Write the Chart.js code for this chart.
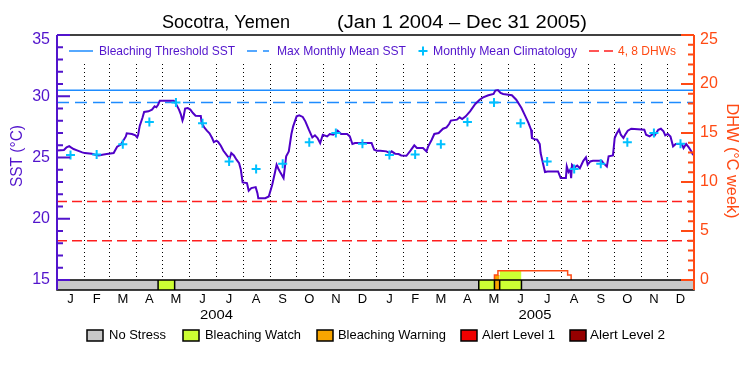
<!DOCTYPE html>
<html>
<head>
<meta charset="utf-8">
<title>Socotra, Yemen</title>
<script src="https://cdn.jsdelivr.net/npm/chart.js@4.4.1/dist/chart.umd.min.js"></script>
<style>
  html, body { margin: 0; padding: 0; background: #fff; }
  #wrap { width: 750px; height: 375px; }
</style>
</head>
<body>
<div id="wrap"><canvas id="chart" width="750" height="375"></canvas></div>
<script>
// axis categories
const monthLetters = ['J', 'F', 'M', 'A', 'M', 'J', 'J', 'A', 'S', 'O', 'N', 'D'];
const years = [2004, 2005];
const sstTicks = [15, 16, 17, 18, 19, 20, 21, 22, 23, 24, 25, 26, 27, 28, 29, 30, 31, 32, 33, 34, 35];
const dhwTicks = [0, 1, 2, 3, 4, 5, 6, 7, 8, 9, 10, 11, 12, 13, 14, 15, 16, 17, 18, 19, 20, 21, 22, 23, 24, 25];

// monthly mean climatology (°C), Jan..Dec
const climatology = [25.2, 25.25, 26.08, 27.9, 29.5, 27.8, 24.67, 24.06, 24.48, 26.25, 27.0, 26.13];
const maxMonthlyMean = 29.5;
const bleachingThreshold = 30.5;
const dhwLevels = [4, 8];

// SST, day 0 = Jan 1 2004
const sstDays = [0, 8, 11, 14, 16, 19, 23, 29, 32, 40, 44, 48, 52, 57, 65, 69, 73, 76, 79, 80,
  86, 90, 92, 93, 95, 98, 100, 105, 109, 112, 114, 116, 118, 134, 136, 140, 142, 144, 145, 147,
  150, 153, 156, 159, 165, 166, 169, 172, 175, 178, 180, 183, 185, 188, 191, 195, 198, 200, 203, 206,
  209, 211, 213, 218, 220, 223, 228, 230, 231, 239, 243, 247, 250, 252, 254, 256, 260, 263, 266, 269,
  271, 275, 278, 282, 285, 289, 293, 296, 299, 302, 305, 310, 313, 317, 322, 326, 333, 336, 339, 342,
  361, 364, 367, 371, 378, 382, 384, 388, 392, 395, 401, 405, 410, 413, 420, 424, 426, 430, 433, 438,
  443, 447, 450, 452, 459, 462, 465, 469, 474, 480, 485, 489, 495, 501, 503, 506, 509, 512, 522, 527,
  533, 537, 541, 544, 545, 548, 551, 554, 555, 557, 560, 563, 575, 578, 584, 585, 587, 589, 590, 591,
  594, 597, 600, 604, 607, 609, 612, 615, 625, 627, 631, 633, 638, 640, 642, 645, 647, 650, 652, 655,
  659, 674, 676, 680, 684, 686, 690, 693, 696, 698, 701, 704, 707, 710, 717, 719, 722, 725, 728, 730];
const sstValues = [25.58, 25.61, 25.83, 25.93, 25.83, 25.69, 25.58, 25.42, 25.36, 25.31, 25.23, 25.17, 25.23, 25.28, 25.36, 25.88, 26.04, 26.37, 26.72, 26.97,
  26.92, 26.81, 26.64, 26.81, 27.6, 28.22, 28.72, 28.77, 28.91, 29.18, 29.1, 29.31, 29.64, 29.64, 29.45, 28.91, 28.55, 28.01, 28.22, 28.99,
  29.04, 28.91, 28.63, 28.41, 28.39, 27.82, 27.46, 27.19, 26.97, 26.59, 26.26, 26.37, 26.26, 25.96, 25.55, 25.17, 24.9, 25.36, 25.17, 24.82,
  24.54, 24.0, 22.96, 22.91, 22.28, 22.5, 22.58, 22.09, 21.68, 21.68, 21.82, 22.77, 23.73, 24.41, 24.08, 23.81, 23.32, 25.09, 25.5, 26.92,
  27.54, 28.36, 28.44, 28.31, 27.95, 27.27, 26.64, 26.81, 26.59, 26.18, 26.86, 26.72, 26.92, 26.86, 27.19, 26.92, 26.92, 26.72, 26.1, 26.18,
  26.18, 25.63, 25.55, 25.55, 25.5, 25.36, 25.5, 25.31, 25.28, 25.17, 25.14, 25.5, 25.99, 25.77, 25.77, 25.5, 25.91, 26.45, 26.92, 27.0,
  27.35, 27.46, 27.73, 28.01, 28.09, 28.28, 28.14, 28.36, 28.77, 29.37, 29.72, 29.91, 30.08, 30.19, 30.46, 30.51, 30.27, 30.19, 30.08, 29.72,
  29.04, 28.44, 27.82, 27.27, 26.59, 26.5, 26.45, 26.1, 25.36, 24.73, 23.81, 23.86, 23.86, 23.32, 23.32, 24.27, 23.81, 24.0, 23.32, 24.41,
  24.19, 24.35, 24.13, 24.73, 25.01, 24.41, 24.68, 24.73, 24.73, 24.54, 24.27, 25.09, 25.17, 26.59, 26.92, 27.27, 26.86, 26.59, 26.86, 27.19,
  27.35, 27.27, 26.86, 26.72, 26.92, 26.81, 27.27, 27.35, 27.13, 26.81, 26.92, 26.72, 25.91, 26.1, 26.1, 25.77, 26.1, 25.83, 25.5, 25.2];

// degree heating weeks (°C week)
const dhwDays = [502, 502, 506, 586, 590];
const dhwValues = [0, 0.5, 0.95, 0.5, 0];
const dhwWarningDays = [502, 508];
const dhwWarningValues = [0.5, 0.5];
const dhwWatchDays = [508, 533];
const dhwWatchValues = [0.95, 0.95];

// stress level bar: first day of each run, level 0 no stress .. 4 alert level 2
const statusStart = [0, 116, 135, 484, 502, 508, 533];
const statusLevel = [0, 1, 0, 1, 2, 1, 0];
const statusNames = ['No Stress', 'Bleaching Watch', 'Bleaching Warning', 'Alert Level 1', 'Alert Level 2'];

const levelColors = ['#c8c8c8', '#ccff33', '#f8a500', '#f00000', '#960000'];
const purple = '#5214cc';
const orange = '#ff4a14';
const FONT = "'Liberation Sans', Arial, sans-serif";

// day offsets of month starts, Jan 1 2004 .. Jan 1 2006
const dayMs = 86400000;
const monthStarts = [];
years.concat([years[1] + 1]).forEach(yr => {
  for (let m = 0; m < 12; m++) {
    monthStarts.push((Date.UTC(yr, m, 1) - Date.UTC(years[0], 0, 1)) / dayMs);
    if (yr > years[1]) break;
  }
});
const totalDays = monthStarts[monthStarts.length - 1];
const midMonths = monthStarts.slice(0, -1).map((d, i) => (d + monthStarts[i + 1]) / 2);

const pts = (xs, ys) => xs.map((d, i) => ({ x: d, y: ys[i] }));

function fitText(ctx, text, x, y, width, font, color, rot) {
  ctx.save();
  ctx.font = font;
  ctx.fillStyle = color;
  ctx.textBaseline = 'middle';
  ctx.textAlign = 'left';
  const w = ctx.measureText(text).width;
  ctx.translate(x, y);
  if (rot) ctx.rotate(rot);
  ctx.scale(width / w, 1);
  ctx.fillText(text, rot ? -w / 2 : 0, 0);
  ctx.restore();
}

function hLine(ctx, x0, x1, y, color, width, dash) {
  ctx.save();
  ctx.strokeStyle = color;
  ctx.lineWidth = width;
  ctx.setLineDash(dash || []);
  ctx.beginPath();
  ctx.moveTo(x0, y);
  ctx.lineTo(x1, y);
  ctx.stroke();
  ctx.restore();
}

const decor = {
  id: 'decor',
  beforeDatasetsDraw(chart) {
    const { ctx, chartArea: a, scales: { x, y } } = chart;
    // dotted month separators
    ctx.save();
    ctx.strokeStyle = '#000';
    ctx.lineWidth = 1;
    ctx.setLineDash([1, 3]);
    monthStarts.slice(1, -1).forEach(d => {
      const px = Math.round(x.getPixelForValue(d)) + 0.5;
      ctx.beginPath();
      ctx.moveTo(px, a.top + 29);
      ctx.lineTo(px, y.getPixelForValue(15));
      ctx.stroke();
    });
    ctx.restore();
  },
  afterDatasetsDraw(chart) {
    const { ctx, chartArea: a, scales: { x, y, y2 } } = chart;
    const top = y.getPixelForValue(15);
    // stress level bar
    ctx.save();
    statusStart.forEach((s, i) => {
      const e = i + 1 < statusStart.length ? statusStart[i + 1] : totalDays;
      const x0 = x.getPixelForValue(s), x1 = x.getPixelForValue(e);
      ctx.fillStyle = levelColors[statusLevel[i]];
      ctx.fillRect(x0, top, x1 - x0, a.bottom - top);
    });
    ctx.strokeStyle = '#000';
    ctx.lineWidth = 1.5;
    statusStart.slice(1).forEach(s => {
      const px = x.getPixelForValue(s);
      ctx.beginPath();
      ctx.moveTo(px, top);
      ctx.lineTo(px, a.bottom);
      ctx.stroke();
    });
    ctx.strokeRect(a.left, top, a.right - a.left, a.bottom - top);
    ctx.restore();

    // frame top and coloured axes with inward ticks
    hLine(ctx, a.left, a.right, a.top, '#000', 1.5);
    ctx.save();
    ctx.lineWidth = 2;
    ctx.strokeStyle = purple;
    ctx.beginPath();
    ctx.moveTo(a.left, a.top); ctx.lineTo(a.left, a.bottom);
    sstTicks.forEach(v => {
      const py = y.getPixelForValue(v);
      ctx.moveTo(a.left, py); ctx.lineTo(a.left + (v % 5 === 0 ? 13 : 6), py);
    });
    ctx.stroke();
    ctx.strokeStyle = orange;
    ctx.beginPath();
    ctx.moveTo(a.right, a.top); ctx.lineTo(a.right, a.bottom);
    dhwTicks.forEach(v => {
      const py = y2.getPixelForValue(v);
      ctx.moveTo(a.right, py); ctx.lineTo(a.right - (v % 5 === 0 ? 13 : 6), py);
    });
    ctx.stroke();
    ctx.restore();

    // top tick labels sit a little below the frame
    ctx.save();
    ctx.font = '16px ' + FONT;
    ctx.textBaseline = 'middle';
    ctx.fillStyle = purple;
    ctx.textAlign = 'right';
    ctx.fillText(String(sstTicks[sstTicks.length - 1]), a.left - 7, a.top + 5);
    ctx.fillStyle = orange;
    ctx.textAlign = 'left';
    ctx.fillText(String(dhwTicks[dhwTicks.length - 1]), a.right + 6, a.top + 5);
    ctx.restore();
  },
  afterDraw(chart) {
    const { ctx, scales: { x } } = chart;
    // title
    fitText(ctx, 'Socotra, Yemen', 162, 23, 128, '18px ' + FONT, '#000');
    fitText(ctx, '(Jan 1 2004 \u2013 Dec 31 2005)', 337, 23, 250, '18px ' + FONT, '#000');

    // legend inside the plot
    const ly = 51;
    hLine(ctx, 69, 93, ly, '#1e8cff', 1.5);
    fitText(ctx, 'Bleaching Threshold SST', 99, ly, 136, '13px ' + FONT, purple);
    hLine(ctx, 247, 269, ly, '#1e8cff', 1.5, [10, 6]);
    fitText(ctx, 'Max Monthly Mean SST', 277, ly, 129, '13px ' + FONT, purple);
    ctx.save();
    ctx.strokeStyle = '#00c0ff';
    ctx.lineWidth = 2;
    ctx.beginPath();
    ctx.moveTo(418.5, ly); ctx.lineTo(427.5, ly);
    ctx.moveTo(423, ly - 4.5); ctx.lineTo(423, ly + 4.5);
    ctx.stroke();
    ctx.restore();
    fitText(ctx, 'Monthly Mean Climatology', 433, ly, 144, '13px ' + FONT, purple);
    hLine(ctx, 589, 613, ly, '#ff1e1e', 1.5, [10, 5]);
    fitText(ctx, '4, 8 DHWs', 618, ly, 58, '13px ' + FONT, orange);

    // axis titles
    fitText(ctx, 'SST (\u00b0C)', 17.5, 156, 62, '16px ' + FONT, purple, -Math.PI / 2);
    fitText(ctx, 'DHW (\u00b0C week)', 731, 161, 115, '16px ' + FONT, orange, Math.PI / 2);

    // year labels under the months
    years.forEach((yr, i) => {
      const cx = x.getPixelForValue((monthStarts[i * 12] + monthStarts[i * 12 + 12]) / 2);
      fitText(ctx, String(yr), cx - 16.5, 315, 33, '13px ' + FONT, '#000');
    });

    // stress level legend
    const boxX = [87, 183, 317, 461, 570];
    const textX = [109, 205, 338, 482, 590];
    const textW = [57, 96, 108, 73, 75];
    statusNames.forEach((name, i) => {
      ctx.save();
      ctx.fillStyle = levelColors[i];
      ctx.fillRect(boxX[i], 330, 16, 11);
      ctx.strokeStyle = '#000';
      ctx.lineWidth = 1.5;
      ctx.strokeRect(boxX[i], 330, 16, 11);
      ctx.restore();
      fitText(ctx, name, textX[i], 335.5, textW[i], '13px ' + FONT, '#000');
    });
  }
};

const climDays = midMonths;
const climValues = midMonths.map((d, i) => climatology[i % 12]);

new Chart(document.getElementById('chart').getContext('2d'), {
  type: 'line',
  data: {
    datasets: [
      {
        label: 'SST',
        data: pts(sstDays, sstValues),
        yAxisID: 'y',
        borderColor: '#5000c8',
        borderWidth: 2,
        pointRadius: 0,
        order: 1
      },
      {
        label: 'Monthly Mean Climatology',
        data: pts(climDays, climValues),
        yAxisID: 'y',
        showLine: false,
        pointStyle: 'cross',
        pointRadius: 4.5,
        pointBorderWidth: 2,
        borderColor: '#00c0ff',
        order: 0
      },
      {
        label: 'Bleaching Threshold SST',
        data: pts([0, totalDays], [bleachingThreshold, bleachingThreshold]),
        yAxisID: 'y',
        borderColor: '#1e8cff',
        borderWidth: 1.5,
        pointRadius: 0,
        order: 3
      },
      {
        label: 'Max Monthly Mean SST',
        data: pts([0, totalDays], [maxMonthlyMean, maxMonthlyMean]),
        yAxisID: 'y',
        borderColor: '#1e8cff',
        borderWidth: 1.5,
        borderDash: [12, 6],
        pointRadius: 0,
        order: 3
      },
      ...dhwLevels.map(v => ({
        label: v + ' DHW',
        data: pts([0, totalDays], [v, v]),
        yAxisID: 'y2',
        borderColor: '#ff1e1e',
        borderWidth: 1.5,
        borderDash: [10, 5],
        pointRadius: 0,
        order: 3
      })),
      {
        label: 'DHW warning',
        data: pts(dhwWarningDays, dhwWarningValues),
        yAxisID: 'y2',
        borderWidth: 0,
        pointRadius: 0,
        fill: 'origin',
        backgroundColor: levelColors[2],
        order: 5
      },
      {
        label: 'DHW watch',
        data: pts(dhwWatchDays, dhwWatchValues),
        yAxisID: 'y2',
        borderWidth: 0,
        pointRadius: 0,
        fill: 'origin',
        backgroundColor: levelColors[1],
        order: 5
      },
      {
        label: 'DHW',
        data: pts(dhwDays, dhwValues),
        yAxisID: 'y2',
        stepped: true,
        borderColor: orange,
        borderWidth: 1.5,
        pointRadius: 0,
        order: 2
      }
    ]
  },
  options: {
    responsive: false,
    animation: false,
    events: [],
    layout: { padding: { top: 35, left: 0, right: 0, bottom: 0 } },
    plugins: { legend: { display: false }, tooltip: { enabled: false } },
    scales: {
      x: {
        type: 'linear',
        min: 0,
        max: totalDays,
        afterFit: s => { s.height = 85; },
        afterBuildTicks: s => { s.ticks = midMonths.map(v => ({ value: v })); },
        grid: { display: false, drawTicks: false },
        border: { display: false },
        ticks: {
          autoSkip: false,
          maxRotation: 0,
          minRotation: 0,
          padding: 2,
          color: '#000',
          font: { family: FONT, size: 13 },
          callback: (v, i) => monthLetters[i % 12]
        }
      },
      y: {
        position: 'left',
        min: 15 - 10 / 12.25,
        max: 35,
        afterFit: s => { s.width = 57; },
        afterBuildTicks: s => { s.ticks = sstTicks.map(v => ({ value: v })); },
        grid: { display: false, drawTicks: false },
        border: { display: false },
        ticks: {
          autoSkip: false,
          padding: 7,
          color: purple,
          font: { family: FONT, size: 16 },
          callback: v => (v % 5 === 0 && v < 35 ? String(v) : '')
        }
      },
      y2: {
        position: 'right',
        min: -10 / 9.8,
        max: 25,
        afterFit: s => { s.width = 56; },
        afterBuildTicks: s => { s.ticks = dhwTicks.map(v => ({ value: v })); },
        grid: { display: false, drawTicks: false },
        border: { display: false },
        ticks: {
          autoSkip: false,
          padding: 6,
          color: orange,
          font: { family: FONT, size: 16 },
          callback: v => (v % 5 === 0 && v < 25 ? String(v) : '')
        }
      }
    }
  },
  plugins: [decor]
});
</script>
</body>
</html>
